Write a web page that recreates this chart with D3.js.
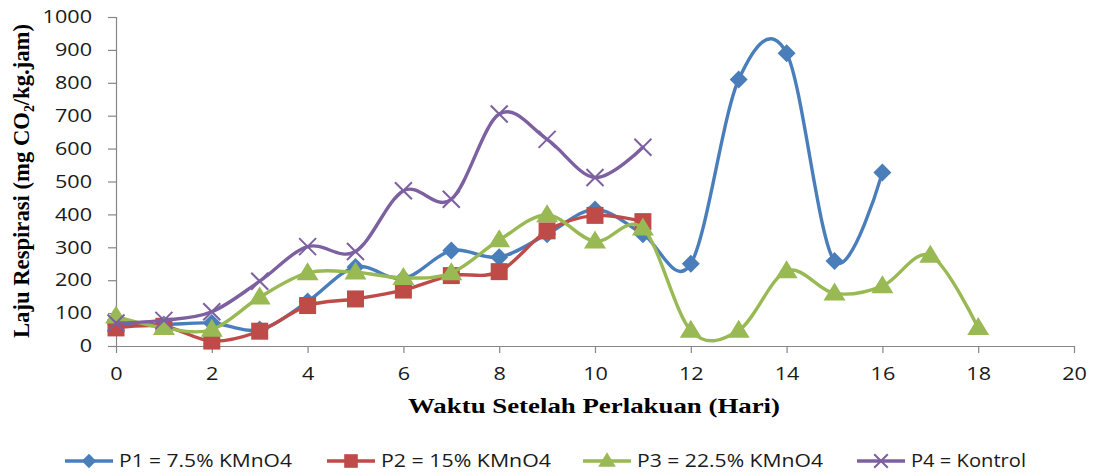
<!DOCTYPE html>
<html>
<head>
<meta charset="utf-8">
<script src="https://cdn.jsdelivr.net/npm/d3@7"></script>
<style>
  html, body { margin: 0; padding: 0; background: #fff; }
  svg { display: block; }
</style>
</head>
<body>
<div id="chart"></div>
<script>
// ---- Data ----
const xTicks = [0, 2, 4, 6, 8, 10, 12, 14, 16, 18, 20];
const yTicks = [0, 100, 200, 300, 400, 500, 600, 700, 800, 900, 1000];

const p1Days = [0, 1, 2, 3, 4, 5, 6, 7, 8, 9, 10, 11, 12, 13, 14, 15, 16];
const p1Values = [65, 65, 70, 50, 135, 240, 205, 290, 270, 340, 415, 340, 250, 810, 890, 258, 527];

const p2Days = [0, 1, 2, 3, 4, 5, 6, 7, 8, 9, 10, 11];
const p2Values = [55, 60, 15, 45, 123, 143, 170, 214, 226, 350, 397, 378];

const p3Days = [0, 1, 2, 3, 4, 5, 6, 7, 8, 9, 10, 11, 12, 13, 14, 15, 16, 17, 18];
const p3Values = [90, 55, 50, 148, 222, 224, 207, 222, 322, 398, 318, 358, 47, 47, 228, 160, 182, 275, 55];

const p4Days = [0, 1, 2, 3, 4, 5, 6, 7, 8, 9, 10, 11];
const p4Values = [70, 78, 104, 197, 302, 287, 472, 446, 705, 628, 512, 604];

const seriesNames = ["P1 = 7.5% KMnO4", "P2 = 15% KMnO4", "P3 = 22.5% KMnO4", "P4 = Kontrol"];
const seriesColors = ["#4a7ebb", "#be4b48", "#98b954", "#7d60a0"];
const seriesMarkers = ["diamond", "square", "triangle", "cross"];

const series = [
  { days: p1Days, values: p1Values },
  { days: p2Days, values: p2Values },
  { days: p3Days, values: p3Values },
  { days: p4Days, values: p4Values }
].map((s, i) => ({
  name: seriesNames[i], color: seriesColors[i], marker: seriesMarkers[i],
  points: s.days.map((d, j) => ({ x: d, y: s.values[j] }))
}));

// ---- Layout ----
const W = 1098, H = 473;
const svg = d3.select("#chart").append("svg").attr("width", W).attr("height", H);

const x = d3.scaleLinear().domain([0, 20]).range([116, 1074]);
const y = d3.scaleLinear().domain([0, 1000]).range([346, 17]);

const axisColor = "#868686";
const tickFont = "'Open Sans', 'Noto Sans', sans-serif";
const stretch = 1.2;

// Y axis
const yAxis = svg.append("g").attr("transform", `translate(${x(0)},0)`)
  .call(d3.axisLeft(y).tickValues(yTicks).tickSize(8).tickPadding(16).tickFormat(d3.format("d")));
yAxis.select(".domain").attr("stroke", axisColor).attr("stroke-width", 1.2);
yAxis.selectAll(".tick line").attr("stroke", axisColor).attr("stroke-width", 1.2);
yAxis.selectAll(".tick text")
  .attr("fill", "#1a1a1a").style("font-family", tickFont).style("font-size", "18px")
  .attr("x", function () { return +d3.select(this).attr("x") / stretch; })
  .attr("transform", `scale(${stretch},1)`);

// X axis
const xAxis = svg.append("g").attr("transform", `translate(0,${y(0)})`)
  .call(d3.axisBottom(x).tickValues(xTicks).tickSize(7).tickSizeOuter(0).tickPadding(14));
xAxis.select(".domain").attr("stroke", axisColor).attr("stroke-width", 1.2);
xAxis.selectAll(".tick line").attr("stroke", axisColor).attr("stroke-width", 1.2);
xAxis.selectAll(".tick text")
  .attr("fill", "#1a1a1a").style("font-family", tickFont).style("font-size", "18px")
  .attr("transform", `scale(${stretch},1)`);

// ---- Axis titles ----
const yTitle = svg.append("text")
  .attr("transform", "translate(29,181) rotate(-90)")
  .attr("text-anchor", "middle")
  .style("font-family", "'Liberation Serif', 'Times New Roman', serif")
  .style("font-weight", "bold")
  .style("font-size", "23px")
  .attr("fill", "#000")
  .attr("textLength", 314)
  .attr("lengthAdjust", "spacingAndGlyphs");
yTitle.append("tspan").text("Laju Respirasi (mg CO");
yTitle.append("tspan").text("2").attr("dy", 5).style("font-size", "14px");
yTitle.append("tspan").text("/kg.jam)").attr("dy", -5);

svg.append("text")
  .attr("x", 594).attr("y", 413)
  .attr("text-anchor", "middle")
  .style("font-family", "'Liberation Serif', 'Times New Roman', serif")
  .style("font-weight", "bold")
  .style("font-size", "22px")
  .attr("fill", "#000")
  .attr("textLength", 372)
  .attr("lengthAdjust", "spacingAndGlyphs")
  .text("Waktu Setelah Perlakuan (Hari)");

// ---- Markers ----
function drawMarker(g, type, cx, cy, color, scale) {
  const k = scale || 1;
  if (type === "diamond") {
    const r = 9 * k;
    g.append("path").attr("d", `M${cx},${cy - r}L${cx + r},${cy}L${cx},${cy + r}L${cx - r},${cy}Z`).attr("fill", color);
  } else if (type === "square") {
    const s = 17 * k;
    g.append("rect").attr("x", cx - s / 2).attr("y", cy - s / 2).attr("width", s).attr("height", s).attr("fill", color);
  } else if (type === "triangle") {
    const hw = 11 * k, h = 18 * k;
    g.append("path").attr("d", `M${cx},${cy - h * 0.6}L${cx + hw},${cy + h * 0.4}L${cx - hw},${cy + h * 0.4}Z`).attr("fill", color);
  } else if (type === "cross") {
    const r = 8.5 * k;
    g.append("path").attr("d", `M${cx - r},${cy - r}L${cx + r},${cy + r}M${cx - r},${cy + r}L${cx + r},${cy - r}`)
      .attr("stroke", color).attr("stroke-width", 2).attr("fill", "none");
  }
}

// ---- Lines ----
const line = d3.line().x(d => x(d.x)).y(d => y(d.y)).curve(d3.curveCardinal.tension(0));
series.forEach(s => {
  const g = svg.append("g");
  g.append("path").datum(s.points).attr("d", line)
    .attr("fill", "none").attr("stroke", s.color).attr("stroke-width", 3.4)
    .attr("stroke-linejoin", "round").attr("stroke-linecap", "round");
  s.points.forEach(p => drawMarker(g, s.marker, x(p.x), y(p.y), s.color, 1));
});

// ---- Legend ----
const legendY = 461;
const legendLineX = [65, 327, 583, 857];
const legendTextLen = [173, 170, 186, 115];
series.forEach((s, i) => {
  const g = svg.append("g");
  const x0 = legendLineX[i];
  g.append("line").attr("x1", x0).attr("x2", x0 + 48).attr("y1", legendY).attr("y2", legendY)
    .attr("stroke", s.color).attr("stroke-width", 3.4);
  drawMarker(g, s.marker, x0 + 24, legendY, s.color, 0.8);
  g.append("text").attr("x", x0 + 54).attr("y", legendY + 6)
    .style("font-family", tickFont).style("font-size", "18px").attr("fill", "#1a1a1a")
    .attr("textLength", legendTextLen[i]).attr("lengthAdjust", "spacingAndGlyphs")
    .text(s.name);
});
</script>
</body>
</html>
